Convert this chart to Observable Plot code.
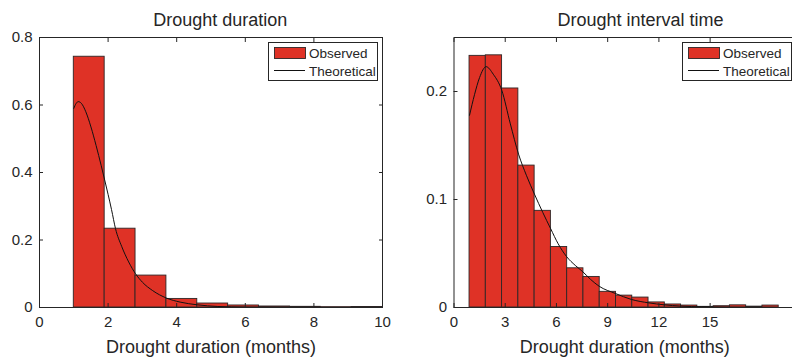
<!DOCTYPE html>
<html><head><meta charset="utf-8">
<script src="https://cdn.jsdelivr.net/npm/d3@7"></script>
<script src="https://cdn.jsdelivr.net/npm/@observablehq/plot@0.6"></script>
<style>
html,body{margin:0;padding:0;background:#fff;overflow:hidden;}
#wrap{position:relative;width:792px;height:357px;overflow:hidden;font-family:"Liberation Sans",Arial,Helvetica,sans-serif;}
.panel{position:absolute;top:0;}
.legend{position:absolute;top:0;}
</style>
</head><body>
<div id="wrap"></div>
<script>
// ---------- data ----------
// Left panel: drought duration
const durBinStart = 1.0;
const durBinWidth = 0.9;
const durObserved = [0.743, 0.2335, 0.0946, 0.0254, 0.0118, 0.006, 0.003, 0.002, 0.001, 0.0015];
const durCurveX = [1.0, 1.07, 1.13, 1.22, 1.35, 1.5, 1.65, 1.8, 1.9, 2.0, 2.1, 2.215, 2.4, 2.6, 2.8, 3.0, 3.3, 3.7, 4.1, 4.6, 5.2, 6.0, 7.0, 8.5, 10.0];
const durCurveY = [0.59, 0.605, 0.61, 0.605, 0.58, 0.535, 0.48, 0.42, 0.378, 0.335, 0.29, 0.234, 0.18, 0.135, 0.10, 0.075, 0.05, 0.028, 0.016, 0.008, 0.003, 0.001, 0.0003, 0.0001, 0];
const durXTicks = [0, 2, 4, 6, 8, 10];
const durXTickLabels = ["0", "2", "4", "6", "8", "10"];
const durYTicks = [0, 0.2, 0.4, 0.6, 0.8];
const durYTickLabels = ["0", "0.2", "0.4", "0.6", "0.8"];

// Right panel: drought interval time
const intBinStart = 0.91;
const intBinWidth = 0.953;
const intObserved = [0.233, 0.2335, 0.2028, 0.1314, 0.0895, 0.056, 0.0363, 0.0283, 0.0145, 0.011, 0.0092, 0.0047, 0.0028, 0.0018, 0.0006, 0.0012, 0.002, 0.0008, 0.0018];
const intCurveX = [0.91, 1.2, 1.5, 1.88, 2.3, 2.8, 3.3, 3.78, 4.25, 4.71, 5.2, 5.66, 6.1, 6.6, 7.1, 7.55, 8.0, 8.5, 9.45, 10.4, 11.4, 12.3, 13.3, 14.5, 16, 18, 19];
const intCurveY = [0.178, 0.197, 0.213, 0.223, 0.216, 0.201, 0.170, 0.142, 0.122, 0.105, 0.088, 0.073, 0.059, 0.047, 0.039, 0.033, 0.026, 0.0197, 0.013, 0.0074, 0.0043, 0.0025, 0.0013, 0.0006, 0.0002, 0.0001, 0];
const intXTicks = [0, 3, 6, 9, 12, 15];
const intXTickLabels = ["0", "3", "6", "9", "12", "15"];
const intYTicks = [0, 0.1, 0.2];
const intYTickLabels = ["0", "0.1", "0.2"];

const legendLabels = ["Observed", "Theoretical"];

// ---------- styles ----------
const FONT = '"Liberation Sans", Arial, Helvetica, sans-serif';
const INK = "#262626";
const RED = "#df3226";
const EDGE = "#2e2626";

function panel(o) {
  const bars = o.obs.map((v, i) => ({x1: o.binStart + i * o.binWidth, x2: o.binStart + (i + 1) * o.binWidth, y: v}));
  const curve = o.curveX.map((x, i) => ({x, y: o.curveY[i]}));
  const fx = d => o.xLabels[o.xTicks.indexOf(d)];
  const fy = d => o.yLabels[o.yTicks.indexOf(d)];
  const blank = () => "";
  return Plot.plot({
    width: o.width, height: 357,
    marginLeft: o.marginLeft, marginRight: o.marginRight, marginTop: 37, marginBottom: 50,
    style: {fontFamily: FONT, color: INK, background: "transparent", overflow: "visible"},
    x: {domain: o.xDomain},
    y: {domain: o.yDomain},
    marks: [
      Plot.rectY(bars, {x1: "x1", x2: "x2", y: "y", fill: RED, stroke: EDGE, strokeWidth: 0.9}),
      Plot.line(curve, {x: "x", y: "y", stroke: "#111", strokeWidth: 1, curve: "monotone-x"}),
      Plot.frame({stroke: INK, strokeWidth: 1}),
      Plot.axisX(o.xTicks, {anchor: "bottom", tickSize: 0, tickPadding: 9, fontSize: 15, tickFormat: fx, label: null, fill: INK}),
      Plot.axisY(o.yTicks, {anchor: "left", tickSize: 0, tickPadding: 7, fontSize: 15, tickFormat: fy, label: null, fill: INK}),
      Plot.axisX(o.xTicks, {anchor: "bottom", tickSize: 4, dy: -4, tickFormat: blank, label: null, stroke: INK}),
      Plot.axisX(o.xTicks, {anchor: "top", tickSize: 4, dy: 4, tickFormat: blank, label: null, stroke: INK}),
      Plot.axisY(o.yTicks, {anchor: "left", tickSize: 4, dx: 4, tickFormat: blank, label: null, stroke: INK}),
      Plot.axisY(o.yTicks, {anchor: "right", tickSize: 4, dx: -4, tickFormat: blank, label: null, stroke: INK}),
      Plot.text([o.title], {frameAnchor: "top", dx: o.titleDx, dy: -11.7, lineAnchor: "bottom", fontSize: 18, fill: INK, text: d => d}),
      Plot.text([o.xlabel], {frameAnchor: "bottom", dy: 45.5, lineAnchor: "bottom", fontSize: 18, fill: INK, text: d => d})
    ]
  });
}

const wrap = document.getElementById("wrap");

const left = panel({
  width: 396, marginLeft: 39, marginRight: 14,
  binStart: durBinStart, binWidth: durBinWidth, obs: durObserved,
  curveX: durCurveX, curveY: durCurveY,
  xDomain: [0, 10], yDomain: [0, 0.8],
  xTicks: durXTicks, xLabels: durXTickLabels, yTicks: durYTicks, yLabels: durYTickLabels,
  title: "Drought duration", titleDx: 9.2, xlabel: "Drought duration (months)"
});
left.classList.add("panel");
left.style.left = "0px";
wrap.appendChild(left);

const right = panel({
  width: 399, marginLeft: 57.5, marginRight: 0,
  binStart: intBinStart, binWidth: intBinWidth, obs: intObserved,
  curveX: intCurveX, curveY: intCurveY,
  xDomain: [0, 20], yDomain: [0, 0.25],
  xTicks: intXTicks, xLabels: intXTickLabels, yTicks: intYTicks, yLabels: intYTickLabels,
  title: "Drought interval time", titleDx: 15.75, xlabel: "Drought duration (months)"
});
right.classList.add("panel");
right.style.left = "396px";
wrap.appendChild(right);

// ---------- legends ----------
function legend(leftPx) {
  const w = 110, h = 39;
  const svg = d3.create("svg").attr("class", "legend").attr("width", w).attr("height", h)
    .style("left", leftPx + "px").style("top", "42px");
  svg.append("rect").attr("x", 0.5).attr("y", 0.5).attr("width", w - 1).attr("height", h - 1)
    .attr("fill", "#fff").attr("stroke", INK).attr("stroke-width", 1);
  svg.append("rect").attr("x", 6.5).attr("y", 5.5).attr("width", 31).attr("height", 11)
    .attr("fill", RED).attr("stroke", EDGE).attr("stroke-width", 0.9);
  svg.append("line").attr("x1", 6).attr("x2", 37).attr("y1", 28.5).attr("y2", 28.5)
    .attr("stroke", "#111").attr("stroke-width", 1);
  svg.append("text").attr("x", 41).attr("y", 16).text(legendLabels[0])
    .attr("font-family", FONT).attr("font-size", 13.5).attr("fill", INK);
  svg.append("text").attr("x", 41).attr("y", 33.5).text(legendLabels[1])
    .attr("font-family", FONT).attr("font-size", 13.5).attr("fill", INK);
  wrap.appendChild(svg.node());
}
legend(267.5);
legend(681.5);
</script>
</body></html>
